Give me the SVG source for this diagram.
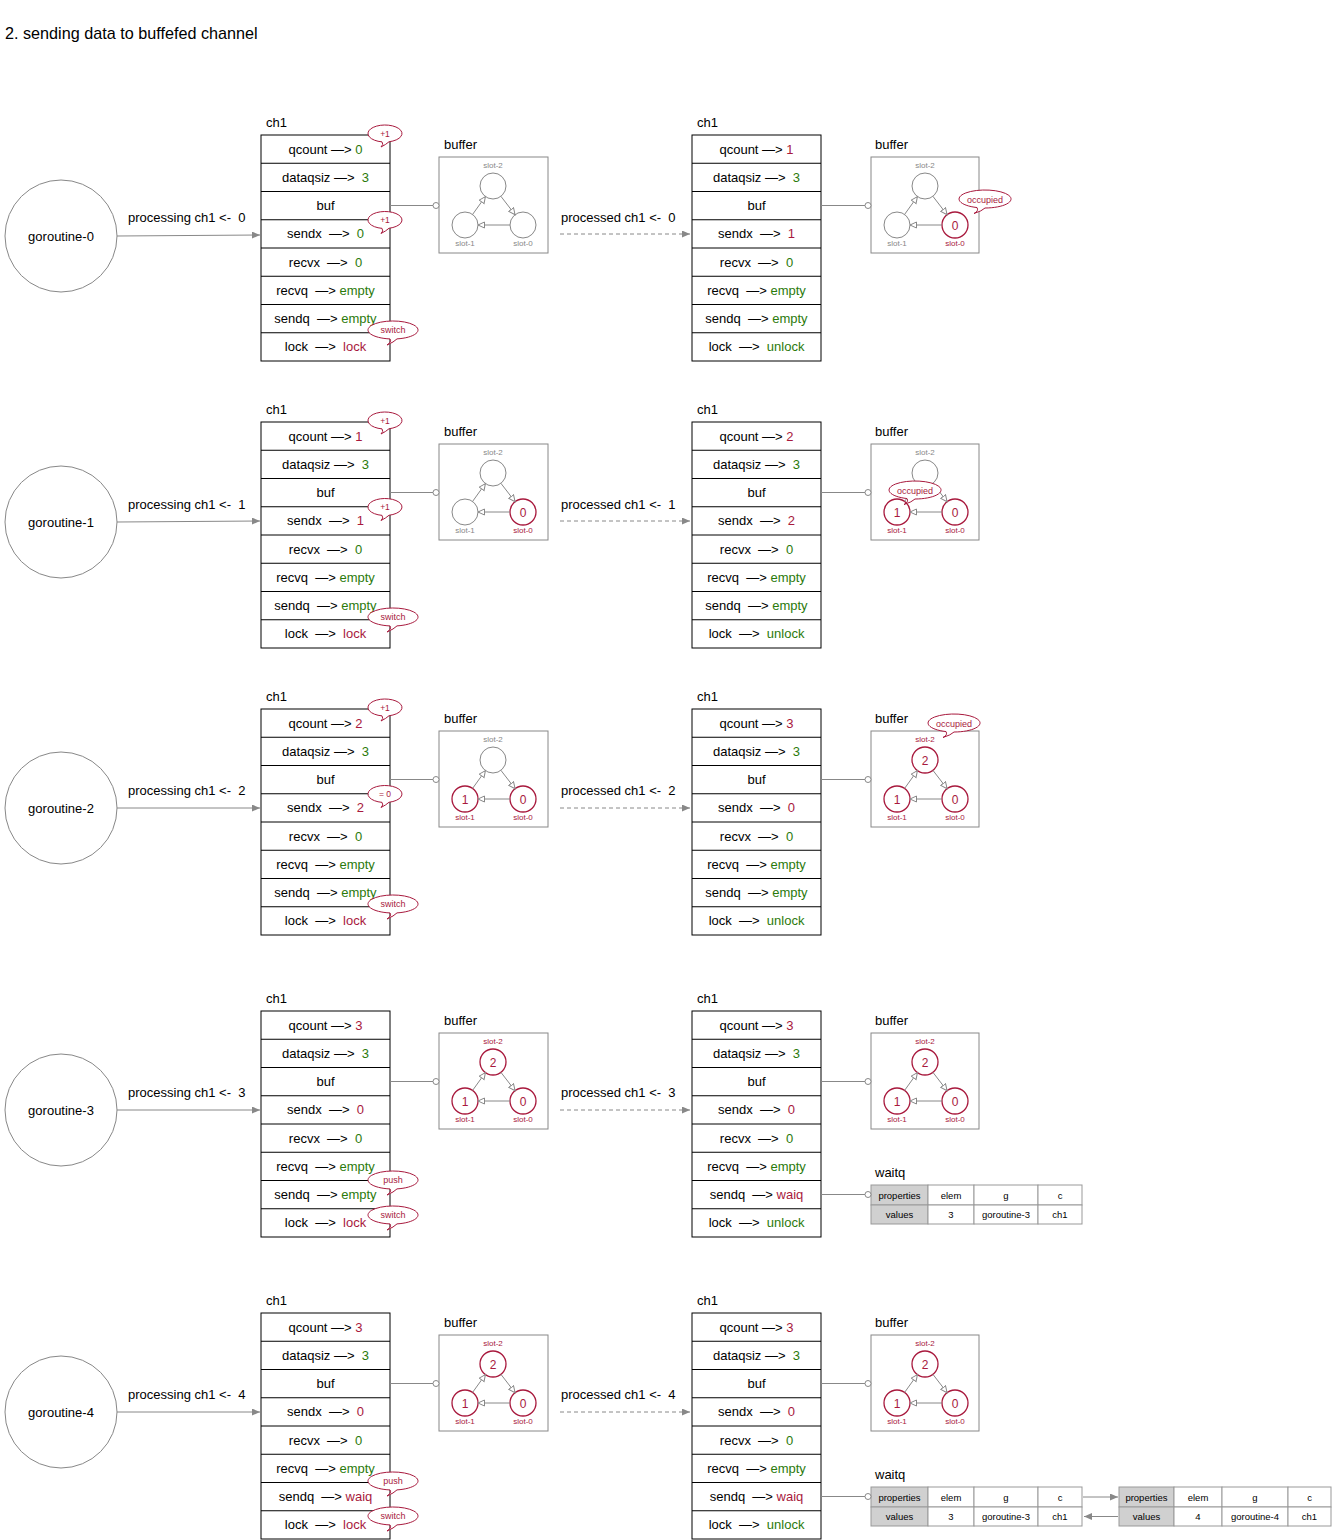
<svg xmlns="http://www.w3.org/2000/svg" xmlns:xlink="http://www.w3.org/1999/xlink" width="1332" height="1540" viewBox="0 0 1332 1540">
<style>
text{font-family:"Liberation Sans",Arial,Helvetica,sans-serif;font-size:13px;fill:#000;white-space:pre}
.m{text-anchor:middle}
.r{fill:#a8193d}
.g{fill:#2b7a0b}
.tb{fill:#fff;stroke:#000;stroke-width:1}
.tl{stroke:#000;stroke-width:1;fill:none}
.gc{fill:#fff;stroke:#888;stroke-width:1}
.box{fill:#fff;stroke:#888;stroke-width:1}
.slot{fill:#fff;stroke:#888;stroke-width:1}
.slotr{fill:#fff;stroke:#a8193d;stroke-width:1.3}
.sl{font-size:8px;fill:#888;text-anchor:middle}
.slr{font-size:8px;fill:#a8193d;text-anchor:middle}
.sv{font-size:12px;fill:#a8193d;text-anchor:middle}
.ba{stroke:#888;stroke-width:1;fill:none;marker-end:url(#oa)}
.bub{fill:#fff;stroke:#a8193d;stroke-width:1}
.bt{font-size:9px;fill:#a8193d;text-anchor:middle}
.conn{stroke:#888;stroke-width:1;fill:none}
.arr{marker-end:url(#fa)}
.dash{stroke-dasharray:4 3}
.pin{fill:#fff;stroke:#888;stroke-width:1}
.wq{fill:#fff;stroke:#999;stroke-width:1}
.wqh{fill:#d0d0d0;stroke:#999;stroke-width:1}
.wt{font-size:9.5px;text-anchor:middle}
</style>
<defs>
<marker id="oa" markerWidth="9" markerHeight="8" refX="7" refY="3.5" orient="auto" markerUnits="userSpaceOnUse"><path d="M0.5,0.5 L7,3.5 L0.5,6.5 Z" fill="#fff" stroke="#888" stroke-width="1"/></marker>
<marker id="fa" markerWidth="9" markerHeight="8" refX="8" refY="3.5" orient="auto" markerUnits="userSpaceOnUse"><path d="M0,0 L8,3.5 L0,7 Z" fill="#888"/></marker>
<path id="bs" d="M -3,8.37 A 17,8.5 0 1 1 4,8.26 Q 1,11 -4,13.5 Q -1,11 -3,8.37 Z"/>
<path id="bw" d="M -3,8.93 A 25,9 0 1 1 4,8.88 Q 1,12 -6,15 Q -1,12 -3,8.93 Z"/>
<path id="bo" d="M -8,8.56 A 26,9 0 1 1 0,9 Q -3,12 -11,14.5 Q -6,12 -8,8.56 Z"/>
<g id="tgrid-l"><rect x="261" y="135" width="129" height="226" class="tb"/><path class="tl" d="M261,163.25H390M261,191.5H390M261,219.75H390M261,248H390M261,276.25H390M261,304.5H390M261,332.75H390"/></g>
<g id="tgrid-r"><rect x="692" y="135" width="129" height="226" class="tb"/><path class="tl" d="M692,163.25H821M692,191.5H821M692,219.75H821M692,248H821M692,276.25H821M692,304.5H821M692,332.75H821"/></g>
<g id="barrows"><path class="ba" d="M33.6,57.4 L46.4,39.6"/><path class="ba" d="M61.9,39.3 L76.1,57.7"/><path class="ba" d="M71,68 L39,68"/></g>
</defs>

<text x="5" y="38.5" style="font-size:16.2px">2. sending data to buffefed channel</text>

<!-- ========== SECTION 0 ========== -->
<g id="section-0">
<g id="goroutine-0"><circle cx="61" cy="236" r="56" class="gc"/><text x="61" y="240.5" class="m">goroutine-0</text></g>
<g id="ch1-before-0"><text x="266" y="126.5">ch1</text><use href="#tgrid-l"/>
<text x="325.5" y="154" class="m">qcount —&gt; <tspan class="g">0</tspan></text>
<text x="325.5" y="182" class="m">dataqsiz —&gt;  <tspan class="g">3</tspan></text>
<text x="325.5" y="210" class="m">buf</text>
<text x="325.5" y="238" class="m">sendx  —&gt;  <tspan class="g">0</tspan></text>
<text x="325.5" y="267" class="m">recvx  —&gt;  <tspan class="g">0</tspan></text>
<text x="325.5" y="295" class="m">recvq  —&gt; <tspan class="g">empty</tspan></text>
<text x="325.5" y="323" class="m">sendq  —&gt; <tspan class="g">empty</tspan></text>
<text x="325.5" y="351" class="m">lock  —&gt;  <tspan class="r">lock</tspan></text>
</g>
<g id="notes-0">
<use href="#bs" class="bub" transform="translate(385,133.5)"/><text x="385" y="136.5" class="bt" style="font-size:8.5px">+1</text>
<use href="#bs" class="bub" transform="translate(385,220)"/><text x="385" y="223" class="bt" style="font-size:8.5px">+1</text>
<use href="#bw" class="bub" transform="translate(393,330)"/><text x="393" y="333" class="bt">switch</text>
</g>
<g id="buffer-before-0"><text x="444" y="148.5">buffer</text>
<g transform="translate(439,157)"><rect width="109" height="96" class="box"/>
<circle cx="54" cy="29" r="13" class="slot"/><circle cx="26" cy="68" r="13" class="slot"/><circle cx="84" cy="68" r="13" class="slot"/>
<text x="54" y="11" class="sl">slot-2</text><text x="26" y="89" class="sl">slot-1</text><text x="84" y="89" class="sl">slot-0</text>
<use href="#barrows"/></g></g>
<g id="ch1-after-0"><text x="697" y="126.5">ch1</text><use href="#tgrid-r"/>
<text x="756.5" y="154" class="m">qcount —&gt; <tspan class="r">1</tspan></text>
<text x="756.5" y="182" class="m">dataqsiz —&gt;  <tspan class="g">3</tspan></text>
<text x="756.5" y="210" class="m">buf</text>
<text x="756.5" y="238" class="m">sendx  —&gt;  <tspan class="r">1</tspan></text>
<text x="756.5" y="267" class="m">recvx  —&gt;  <tspan class="g">0</tspan></text>
<text x="756.5" y="295" class="m">recvq  —&gt; <tspan class="g">empty</tspan></text>
<text x="756.5" y="323" class="m">sendq  —&gt; <tspan class="g">empty</tspan></text>
<text x="756.5" y="351" class="m">lock  —&gt;  <tspan class="g">unlock</tspan></text>
</g>
<g id="buffer-after-0"><text x="875" y="148.5">buffer</text>
<g transform="translate(871,157)"><rect width="108" height="96" class="box"/>
<circle cx="54" cy="29" r="13" class="slot"/><circle cx="26" cy="68" r="13" class="slot"/><circle cx="84" cy="68" r="13" class="slotr"/>
<text x="84" y="72.5" class="sv">0</text>
<text x="54" y="11" class="sl">slot-2</text><text x="26" y="89" class="sl">slot-1</text><text x="84" y="89" class="slr">slot-0</text>
<use href="#barrows"/></g>
<use href="#bo" class="bub" transform="translate(985,199)"/><text x="985" y="202.5" class="bt">occupied</text></g>
</g>

<!-- ========== SECTION 1 ========== -->
<g id="section-1" transform="translate(0,287)">
<g id="goroutine-1"><circle cx="61" cy="235" r="56" class="gc"/><text x="61" y="239.5" class="m">goroutine-1</text></g>
<g id="ch1-before-1"><text x="266" y="126.5">ch1</text><use href="#tgrid-l"/>
<text x="325.5" y="154" class="m">qcount —&gt; <tspan class="r">1</tspan></text>
<text x="325.5" y="182" class="m">dataqsiz —&gt;  <tspan class="g">3</tspan></text>
<text x="325.5" y="210" class="m">buf</text>
<text x="325.5" y="238" class="m">sendx  —&gt;  <tspan class="r">1</tspan></text>
<text x="325.5" y="267" class="m">recvx  —&gt;  <tspan class="g">0</tspan></text>
<text x="325.5" y="295" class="m">recvq  —&gt; <tspan class="g">empty</tspan></text>
<text x="325.5" y="323" class="m">sendq  —&gt; <tspan class="g">empty</tspan></text>
<text x="325.5" y="351" class="m">lock  —&gt;  <tspan class="r">lock</tspan></text>
</g>
<g id="notes-1">
<use href="#bs" class="bub" transform="translate(385,133.5)"/><text x="385" y="136.5" class="bt" style="font-size:8.5px">+1</text>
<use href="#bs" class="bub" transform="translate(385,220)"/><text x="385" y="223" class="bt" style="font-size:8.5px">+1</text>
<use href="#bw" class="bub" transform="translate(393,330)"/><text x="393" y="333" class="bt">switch</text>
</g>
<g id="buffer-before-1"><text x="444" y="148.5">buffer</text>
<g transform="translate(439,157)"><rect width="109" height="96" class="box"/>
<circle cx="54" cy="29" r="13" class="slot"/><circle cx="26" cy="68" r="13" class="slot"/><circle cx="84" cy="68" r="13" class="slotr"/>
<text x="84" y="72.5" class="sv">0</text>
<text x="54" y="11" class="sl">slot-2</text><text x="26" y="89" class="sl">slot-1</text><text x="84" y="89" class="slr">slot-0</text>
<use href="#barrows"/></g></g>
<g id="ch1-after-1"><text x="697" y="126.5">ch1</text><use href="#tgrid-r"/>
<text x="756.5" y="154" class="m">qcount —&gt; <tspan class="r">2</tspan></text>
<text x="756.5" y="182" class="m">dataqsiz —&gt;  <tspan class="g">3</tspan></text>
<text x="756.5" y="210" class="m">buf</text>
<text x="756.5" y="238" class="m">sendx  —&gt;  <tspan class="r">2</tspan></text>
<text x="756.5" y="267" class="m">recvx  —&gt;  <tspan class="g">0</tspan></text>
<text x="756.5" y="295" class="m">recvq  —&gt; <tspan class="g">empty</tspan></text>
<text x="756.5" y="323" class="m">sendq  —&gt; <tspan class="g">empty</tspan></text>
<text x="756.5" y="351" class="m">lock  —&gt;  <tspan class="g">unlock</tspan></text>
</g>
<g id="buffer-after-1"><text x="875" y="148.5">buffer</text>
<g transform="translate(871,157)"><rect width="108" height="96" class="box"/>
<circle cx="54" cy="29" r="13" class="slot"/><circle cx="26" cy="68" r="13" class="slotr"/><circle cx="84" cy="68" r="13" class="slotr"/>
<text x="26" y="72.5" class="sv">1</text><text x="84" y="72.5" class="sv">0</text>
<text x="54" y="11" class="sl">slot-2</text><text x="26" y="89" class="slr">slot-1</text><text x="84" y="89" class="slr">slot-0</text>
<use href="#barrows"/></g>
<use href="#bo" class="bub" transform="translate(915,203)"/><text x="915" y="206.5" class="bt">occupied</text></g>
</g>

<!-- ========== SECTION 2 ========== -->
<g id="section-2" transform="translate(0,574)">
<g id="goroutine-2"><circle cx="61" cy="234" r="56" class="gc"/><text x="61" y="238.5" class="m">goroutine-2</text></g>
<g id="ch1-before-2"><text x="266" y="126.5">ch1</text><use href="#tgrid-l"/>
<text x="325.5" y="154" class="m">qcount —&gt; <tspan class="r">2</tspan></text>
<text x="325.5" y="182" class="m">dataqsiz —&gt;  <tspan class="g">3</tspan></text>
<text x="325.5" y="210" class="m">buf</text>
<text x="325.5" y="238" class="m">sendx  —&gt;  <tspan class="r">2</tspan></text>
<text x="325.5" y="267" class="m">recvx  —&gt;  <tspan class="g">0</tspan></text>
<text x="325.5" y="295" class="m">recvq  —&gt; <tspan class="g">empty</tspan></text>
<text x="325.5" y="323" class="m">sendq  —&gt; <tspan class="g">empty</tspan></text>
<text x="325.5" y="351" class="m">lock  —&gt;  <tspan class="r">lock</tspan></text>
</g>
<g id="notes-2">
<use href="#bs" class="bub" transform="translate(385,133.5)"/><text x="385" y="136.5" class="bt" style="font-size:8.5px">+1</text>
<use href="#bs" class="bub" transform="translate(385,220)"/><text x="385" y="223" class="bt" style="font-size:8.5px">= 0</text>
<use href="#bw" class="bub" transform="translate(393,330)"/><text x="393" y="333" class="bt">switch</text>
</g>
<g id="buffer-before-2"><text x="444" y="148.5">buffer</text>
<g transform="translate(439,157)"><rect width="109" height="96" class="box"/>
<circle cx="54" cy="29" r="13" class="slot"/><circle cx="26" cy="68" r="13" class="slotr"/><circle cx="84" cy="68" r="13" class="slotr"/>
<text x="26" y="72.5" class="sv">1</text><text x="84" y="72.5" class="sv">0</text>
<text x="54" y="11" class="sl">slot-2</text><text x="26" y="89" class="slr">slot-1</text><text x="84" y="89" class="slr">slot-0</text>
<use href="#barrows"/></g></g>
<g id="ch1-after-2"><text x="697" y="126.5">ch1</text><use href="#tgrid-r"/>
<text x="756.5" y="154" class="m">qcount —&gt; <tspan class="r">3</tspan></text>
<text x="756.5" y="182" class="m">dataqsiz —&gt;  <tspan class="g">3</tspan></text>
<text x="756.5" y="210" class="m">buf</text>
<text x="756.5" y="238" class="m">sendx  —&gt;  <tspan class="r">0</tspan></text>
<text x="756.5" y="267" class="m">recvx  —&gt;  <tspan class="g">0</tspan></text>
<text x="756.5" y="295" class="m">recvq  —&gt; <tspan class="g">empty</tspan></text>
<text x="756.5" y="323" class="m">sendq  —&gt; <tspan class="g">empty</tspan></text>
<text x="756.5" y="351" class="m">lock  —&gt;  <tspan class="g">unlock</tspan></text>
</g>
<g id="buffer-after-2"><text x="875" y="148.5">buffer</text>
<g transform="translate(871,157)"><rect width="108" height="96" class="box"/>
<circle cx="54" cy="29" r="13" class="slotr"/><circle cx="26" cy="68" r="13" class="slotr"/><circle cx="84" cy="68" r="13" class="slotr"/>
<text x="54" y="33.5" class="sv">2</text><text x="26" y="72.5" class="sv">1</text><text x="84" y="72.5" class="sv">0</text>
<text x="54" y="11" class="slr">slot-2</text><text x="26" y="89" class="slr">slot-1</text><text x="84" y="89" class="slr">slot-0</text>
<use href="#barrows"/></g>
<use href="#bo" class="bub" transform="translate(954,149)"/><text x="954" y="152.5" class="bt">occupied</text></g>
</g>

<!-- ========== SECTION 3 ========== -->
<g id="section-3" transform="translate(0,876)">
<g id="goroutine-3"><circle cx="61" cy="234" r="56" class="gc"/><text x="61" y="238.5" class="m">goroutine-3</text></g>
<g id="ch1-before-3"><text x="266" y="126.5">ch1</text><use href="#tgrid-l"/>
<text x="325.5" y="154" class="m">qcount —&gt; <tspan class="r">3</tspan></text>
<text x="325.5" y="182" class="m">dataqsiz —&gt;  <tspan class="g">3</tspan></text>
<text x="325.5" y="210" class="m">buf</text>
<text x="325.5" y="238" class="m">sendx  —&gt;  <tspan class="r">0</tspan></text>
<text x="325.5" y="267" class="m">recvx  —&gt;  <tspan class="g">0</tspan></text>
<text x="325.5" y="295" class="m">recvq  —&gt; <tspan class="g">empty</tspan></text>
<text x="325.5" y="323" class="m">sendq  —&gt; <tspan class="g">empty</tspan></text>
<text x="325.5" y="351" class="m">lock  —&gt;  <tspan class="r">lock</tspan></text>
</g>
<g id="notes-3">
<use href="#bw" class="bub" transform="translate(393,304)"/><text x="393" y="307" class="bt">push</text>
<use href="#bw" class="bub" transform="translate(393,339)"/><text x="393" y="342" class="bt">switch</text>
</g>
<g id="buffer-before-3"><text x="444" y="148.5">buffer</text>
<g transform="translate(439,157)"><rect width="109" height="96" class="box"/>
<circle cx="54" cy="29" r="13" class="slotr"/><circle cx="26" cy="68" r="13" class="slotr"/><circle cx="84" cy="68" r="13" class="slotr"/>
<text x="54" y="33.5" class="sv">2</text><text x="26" y="72.5" class="sv">1</text><text x="84" y="72.5" class="sv">0</text>
<text x="54" y="11" class="slr">slot-2</text><text x="26" y="89" class="slr">slot-1</text><text x="84" y="89" class="slr">slot-0</text>
<use href="#barrows"/></g></g>
<g id="ch1-after-3"><text x="697" y="126.5">ch1</text><use href="#tgrid-r"/>
<text x="756.5" y="154" class="m">qcount —&gt; <tspan class="r">3</tspan></text>
<text x="756.5" y="182" class="m">dataqsiz —&gt;  <tspan class="g">3</tspan></text>
<text x="756.5" y="210" class="m">buf</text>
<text x="756.5" y="238" class="m">sendx  —&gt;  <tspan class="r">0</tspan></text>
<text x="756.5" y="267" class="m">recvx  —&gt;  <tspan class="g">0</tspan></text>
<text x="756.5" y="295" class="m">recvq  —&gt; <tspan class="g">empty</tspan></text>
<text x="756.5" y="323" class="m">sendq  —&gt; <tspan class="r">waiq</tspan></text>
<text x="756.5" y="351" class="m">lock  —&gt;  <tspan class="g">unlock</tspan></text>
</g>
<g id="buffer-after-3"><text x="875" y="148.5">buffer</text>
<g transform="translate(871,157)"><rect width="108" height="96" class="box"/>
<circle cx="54" cy="29" r="13" class="slotr"/><circle cx="26" cy="68" r="13" class="slotr"/><circle cx="84" cy="68" r="13" class="slotr"/>
<text x="54" y="33.5" class="sv">2</text><text x="26" y="72.5" class="sv">1</text><text x="84" y="72.5" class="sv">0</text>
<text x="54" y="11" class="slr">slot-2</text><text x="26" y="89" class="slr">slot-1</text><text x="84" y="89" class="slr">slot-0</text>
<use href="#barrows"/></g></g>
<g id="waitq-3"><text x="875" y="300.5">waitq</text>
<rect x="871" y="309" width="57" height="20" class="wqh"/><rect x="928" y="309" width="46" height="20" class="wq"/><rect x="974" y="309" width="64" height="20" class="wq"/><rect x="1038" y="309" width="44" height="20" class="wq"/>
<rect x="871" y="329" width="57" height="19" class="wqh"/><rect x="928" y="329" width="46" height="19" class="wq"/><rect x="974" y="329" width="64" height="19" class="wq"/><rect x="1038" y="329" width="44" height="19" class="wq"/>
<text x="899.5" y="322.5" class="wt">properties</text><text x="951" y="322.5" class="wt">elem</text><text x="1006" y="322.5" class="wt">g</text><text x="1060" y="322.5" class="wt">c</text>
<text x="899.5" y="342" class="wt">values</text><text x="951" y="342" class="wt">3</text><text x="1006" y="342" class="wt">goroutine-3</text><text x="1060" y="342" class="wt">ch1</text>
</g>
</g>

<!-- ========== SECTION 4 ========== -->
<g id="section-4" transform="translate(0,1178)">
<g id="goroutine-4"><circle cx="61" cy="234" r="56" class="gc"/><text x="61" y="238.5" class="m">goroutine-4</text></g>
<g id="ch1-before-4"><text x="266" y="126.5">ch1</text><use href="#tgrid-l"/>
<text x="325.5" y="154" class="m">qcount —&gt; <tspan class="r">3</tspan></text>
<text x="325.5" y="182" class="m">dataqsiz —&gt;  <tspan class="g">3</tspan></text>
<text x="325.5" y="210" class="m">buf</text>
<text x="325.5" y="238" class="m">sendx  —&gt;  <tspan class="r">0</tspan></text>
<text x="325.5" y="267" class="m">recvx  —&gt;  <tspan class="g">0</tspan></text>
<text x="325.5" y="295" class="m">recvq  —&gt; <tspan class="g">empty</tspan></text>
<text x="325.5" y="323" class="m">sendq  —&gt; <tspan class="r">waiq</tspan></text>
<text x="325.5" y="351" class="m">lock  —&gt;  <tspan class="r">lock</tspan></text>
</g>
<g id="notes-4">
<use href="#bw" class="bub" transform="translate(393,303)"/><text x="393" y="306" class="bt">push</text>
<use href="#bw" class="bub" transform="translate(393,338)"/><text x="393" y="341" class="bt">switch</text>
</g>
<g id="buffer-before-4"><text x="444" y="148.5">buffer</text>
<g transform="translate(439,157)"><rect width="109" height="96" class="box"/>
<circle cx="54" cy="29" r="13" class="slotr"/><circle cx="26" cy="68" r="13" class="slotr"/><circle cx="84" cy="68" r="13" class="slotr"/>
<text x="54" y="33.5" class="sv">2</text><text x="26" y="72.5" class="sv">1</text><text x="84" y="72.5" class="sv">0</text>
<text x="54" y="11" class="slr">slot-2</text><text x="26" y="89" class="slr">slot-1</text><text x="84" y="89" class="slr">slot-0</text>
<use href="#barrows"/></g></g>
<g id="ch1-after-4"><text x="697" y="126.5">ch1</text><use href="#tgrid-r"/>
<text x="756.5" y="154" class="m">qcount —&gt; <tspan class="r">3</tspan></text>
<text x="756.5" y="182" class="m">dataqsiz —&gt;  <tspan class="g">3</tspan></text>
<text x="756.5" y="210" class="m">buf</text>
<text x="756.5" y="238" class="m">sendx  —&gt;  <tspan class="r">0</tspan></text>
<text x="756.5" y="267" class="m">recvx  —&gt;  <tspan class="g">0</tspan></text>
<text x="756.5" y="295" class="m">recvq  —&gt; <tspan class="g">empty</tspan></text>
<text x="756.5" y="323" class="m">sendq  —&gt; <tspan class="r">waiq</tspan></text>
<text x="756.5" y="351" class="m">lock  —&gt;  <tspan class="g">unlock</tspan></text>
</g>
<g id="buffer-after-4"><text x="875" y="148.5">buffer</text>
<g transform="translate(871,157)"><rect width="108" height="96" class="box"/>
<circle cx="54" cy="29" r="13" class="slotr"/><circle cx="26" cy="68" r="13" class="slotr"/><circle cx="84" cy="68" r="13" class="slotr"/>
<text x="54" y="33.5" class="sv">2</text><text x="26" y="72.5" class="sv">1</text><text x="84" y="72.5" class="sv">0</text>
<text x="54" y="11" class="slr">slot-2</text><text x="26" y="89" class="slr">slot-1</text><text x="84" y="89" class="slr">slot-0</text>
<use href="#barrows"/></g></g>
<g id="waitq-4a"><text x="875" y="300.5">waitq</text>
<rect x="871" y="309" width="57" height="20" class="wqh"/><rect x="928" y="309" width="46" height="20" class="wq"/><rect x="974" y="309" width="64" height="20" class="wq"/><rect x="1038" y="309" width="44" height="20" class="wq"/>
<rect x="871" y="329" width="57" height="19" class="wqh"/><rect x="928" y="329" width="46" height="19" class="wq"/><rect x="974" y="329" width="64" height="19" class="wq"/><rect x="1038" y="329" width="44" height="19" class="wq"/>
<text x="899.5" y="322.5" class="wt">properties</text><text x="951" y="322.5" class="wt">elem</text><text x="1006" y="322.5" class="wt">g</text><text x="1060" y="322.5" class="wt">c</text>
<text x="899.5" y="342" class="wt">values</text><text x="951" y="342" class="wt">3</text><text x="1006" y="342" class="wt">goroutine-3</text><text x="1060" y="342" class="wt">ch1</text>
</g>
<g id="waitq-4b">
<rect x="1119" y="309" width="55" height="20" class="wqh"/><rect x="1174" y="309" width="48" height="20" class="wq"/><rect x="1222" y="309" width="66" height="20" class="wq"/><rect x="1288" y="309" width="43" height="20" class="wq"/>
<rect x="1119" y="329" width="55" height="19" class="wqh"/><rect x="1174" y="329" width="48" height="19" class="wq"/><rect x="1222" y="329" width="66" height="19" class="wq"/><rect x="1288" y="329" width="43" height="19" class="wq"/>
<text x="1146.5" y="322.5" class="wt">properties</text><text x="1198" y="322.5" class="wt">elem</text><text x="1255" y="322.5" class="wt">g</text><text x="1309.5" y="322.5" class="wt">c</text>
<text x="1146.5" y="342" class="wt">values</text><text x="1198" y="342" class="wt">4</text><text x="1255" y="342" class="wt">goroutine-4</text><text x="1309.5" y="342" class="wt">ch1</text>
</g>
</g>

<!-- ========== CONNECTORS ========== -->
<g id="connectors">
<g transform="translate(0,0)">
<path class="conn arr" d="M117,236 L260,235"/><text x="128" y="222">processing ch1 &lt;-  0</text>
<path class="conn arr dash" d="M560,234 L690,234"/><text x="561" y="222">processed ch1 &lt;-  0</text>
<path class="conn" d="M390,205.5 H433"/><circle cx="436" cy="205.5" r="3" class="pin"/>
<path class="conn" d="M821,205.5 H865"/><circle cx="868" cy="205.5" r="3" class="pin"/>
</g>
<g transform="translate(0,287)">
<path class="conn arr" d="M117,235 L260,234"/><text x="128" y="222">processing ch1 &lt;-  1</text>
<path class="conn arr dash" d="M560,234 L690,234"/><text x="561" y="222">processed ch1 &lt;-  1</text>
<path class="conn" d="M390,205.5 H433"/><circle cx="436" cy="205.5" r="3" class="pin"/>
<path class="conn" d="M821,205.5 H865"/><circle cx="868" cy="205.5" r="3" class="pin"/>
</g>
<g transform="translate(0,574)">
<path class="conn arr" d="M117,234 L260,234"/><text x="128" y="221">processing ch1 &lt;-  2</text>
<path class="conn arr dash" d="M560,234 L690,234"/><text x="561" y="221">processed ch1 &lt;-  2</text>
<path class="conn" d="M390,205.5 H433"/><circle cx="436" cy="205.5" r="3" class="pin"/>
<path class="conn" d="M821,205.5 H865"/><circle cx="868" cy="205.5" r="3" class="pin"/>
</g>
<g transform="translate(0,876)">
<path class="conn arr" d="M117,234 L260,234"/><text x="128" y="221">processing ch1 &lt;-  3</text>
<path class="conn arr dash" d="M560,234 L690,234"/><text x="561" y="221">processed ch1 &lt;-  3</text>
<path class="conn" d="M390,205.5 H433"/><circle cx="436" cy="205.5" r="3" class="pin"/>
<path class="conn" d="M821,205.5 H865"/><circle cx="868" cy="205.5" r="3" class="pin"/>
<path class="conn" d="M821,318.5 H865"/><circle cx="868" cy="318.5" r="3" class="pin"/>
</g>
<g transform="translate(0,1178)">
<path class="conn arr" d="M117,234 L260,234"/><text x="128" y="221">processing ch1 &lt;-  4</text>
<path class="conn arr dash" d="M560,234 L690,234"/><text x="561" y="221">processed ch1 &lt;-  4</text>
<path class="conn" d="M390,205.5 H433"/><circle cx="436" cy="205.5" r="3" class="pin"/>
<path class="conn" d="M821,205.5 H865"/><circle cx="868" cy="205.5" r="3" class="pin"/>
<path class="conn" d="M821,318.5 H865"/><circle cx="868" cy="318.5" r="3" class="pin"/>
<path class="conn arr" d="M1083,319 L1118,319"/>
<path class="conn arr" d="M1118,338.5 L1084,338.5"/>
</g>
</g>
</svg>
